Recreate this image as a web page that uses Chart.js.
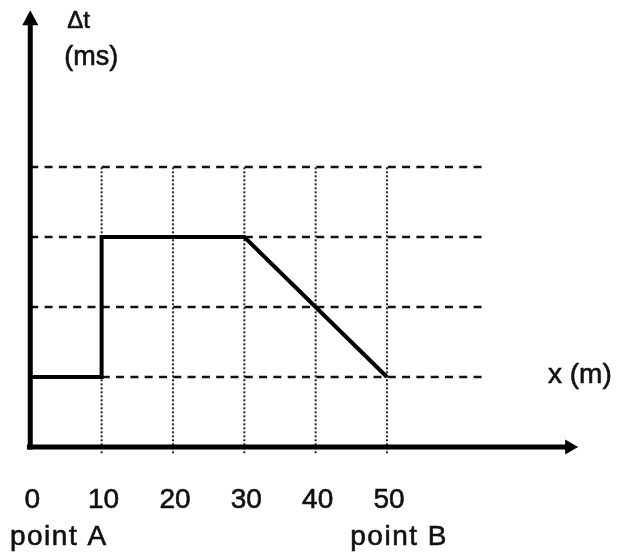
<!DOCTYPE html>
<html>
<head>
<meta charset="utf-8">
<script src="https://cdn.jsdelivr.net/npm/chart.js@4.4.1/dist/chart.umd.min.js"></script>
<style>
html,body{margin:0;padding:0;background:#fff;}
#c{display:block;}
</style>
</head>
<body>
<canvas id="c" width="619" height="557"></canvas>
<script>
// ---- data ----
const xValues = [0, 10, 10, 30, 50];
const dtValues = [1, 1, 3, 3, 1];
const xTicks = [0, 10, 20, 30, 40, 50];
const xTickLabels = ['0', '10', '20', '30', '40', '50'];
const gridLevels = [1, 2, 3, 4];
const pointNames = ['point A', 'point B'];
const pointNameAt = [4, 51.7];
const yTitle = ['Δt', '(ms)'];
const xTitle = 'x (m)';

const FONT = '"Liberation Sans", Arial, sans-serif';

const mainData = xValues.map((x, i) => ({x: x, y: dtValues[i]}));

const datasets = [{
  label: 'dt',
  data: mainData,
  showLine: true,
  borderColor: '#000',
  borderWidth: 4,
  pointRadius: 0,
  borderJoinStyle: 'miter',
  order: 0
}];
gridLevels.forEach(v => {
  datasets.push({
    data: [{x: 0, y: v}, {x: 63.5, y: v}],
    showLine: true, borderColor: '#111', borderWidth: 2.5,
    borderDash: [8, 6.3], pointRadius: 0, order: 2
  });
});
xTicks.slice(1).forEach(v => {
  datasets.push({
    data: [{x: v, y: -0.09}, {x: v, y: 4}],
    showLine: true, borderColor: '#222', borderWidth: 2,
    borderDash: [2, 2], pointRadius: 0, order: 3
  });
});

function txt(ctx, s, x, y) {
  ctx.fillText(s, x, y);
  ctx.strokeText(s, x, y);
}

const axesPlugin = {
  id: 'axes',
  afterDatasetsDraw(chart) {
    const ctx = chart.ctx;
    const xs = chart.scales.x, ys = chart.scales.y;
    const x0 = xs.getPixelForValue(0), y0 = ys.getPixelForValue(0);
    ctx.save();
    ctx.strokeStyle = '#000';
    ctx.fillStyle = '#000';
    ctx.lineWidth = 5;
    // y axis
    const yTip = ys.getPixelForValue(6.24);
    ctx.beginPath();
    ctx.moveTo(x0, y0 + 2.5);
    ctx.lineTo(x0, yTip + 12);
    ctx.stroke();
    ctx.beginPath();
    ctx.moveTo(x0, yTip);
    ctx.lineTo(x0 - 8, yTip + 15);
    ctx.lineTo(x0 + 8, yTip + 15);
    ctx.closePath();
    ctx.fill();
    // x axis
    const xStart = xs.getPixelForValue(-0.47);
    const xTip = xs.getPixelForValue(76.8);
    ctx.beginPath();
    ctx.moveTo(xStart, y0);
    ctx.lineTo(xTip - 10, y0);
    ctx.stroke();
    ctx.beginPath();
    ctx.moveTo(xTip, y0);
    ctx.lineTo(xTip - 13, y0 - 7.5);
    ctx.lineTo(xTip - 13, y0 + 7.5);
    ctx.closePath();
    ctx.fill();

    // tick labels
    ctx.fillStyle = '#111';
    ctx.strokeStyle = '#111';
    ctx.lineWidth = 0.6;
    ctx.font = '28px ' + FONT;
    ctx.textAlign = 'center';
    ctx.textBaseline = 'alphabetic';
    xTicks.forEach((v, i) => {
      txt(ctx, xTickLabels[i], xs.getPixelForValue(v) + 2, y0 + 61);
    });
    ctx.letterSpacing = '1.5px';
    pointNames.forEach((t, i) => {
      txt(ctx, t, xs.getPixelForValue(pointNameAt[i]), y0 + 98);
    });
    ctx.letterSpacing = '0px';
    // titles
    ctx.textAlign = 'left';
    ctx.font = '24px ' + FONT;
    txt(ctx, yTitle[0], x0 + 37, 28);
    ctx.font = '27px ' + FONT;
    txt(ctx, yTitle[1], x0 + 34, 65);
    ctx.font = '28px ' + FONT;
    txt(ctx, xTitle, 548, ys.getPixelForValue(1) + 6);
    ctx.restore();
  }
};

new Chart(document.getElementById('c'), {
  type: 'scatter',
  data: {datasets: datasets},
  options: {
    responsive: false,
    animation: false,
    devicePixelRatio: 1,
    layout: {padding: {left: 16, right: 18, top: 6, bottom: 40}},
    plugins: {legend: {display: false}, tooltip: {enabled: false}},
    scales: {
      x: {type: 'linear', min: -2, max: 80, display: false},
      y: {type: 'linear', min: -1, max: 6.3, display: false}
    }
  },
  plugins: [axesPlugin]
});
</script>
</body>
</html>
